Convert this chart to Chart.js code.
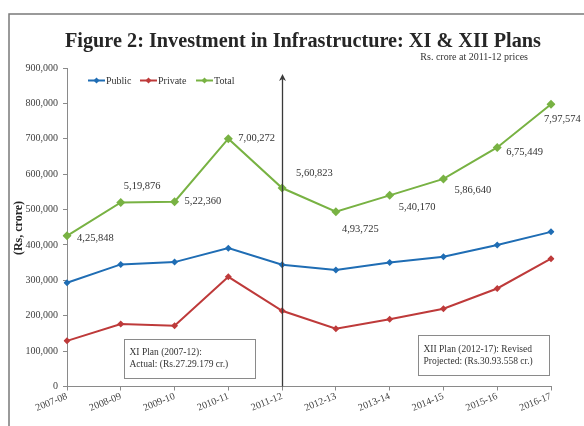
<!DOCTYPE html>
<html>
<head>
<meta charset="utf-8">
<script src="https://cdn.jsdelivr.net/npm/chart.js@4/dist/chart.umd.min.js"></script>
<style>
    html, body { margin: 0; padding: 0; background: #fff; }
    #wrap { width: 584px; height: 426px; position: relative; }
</style>
</head>
<body>
<div id="wrap"><canvas id="investmentGraph" width="584" height="426"></canvas></div>
<script>
var years = ["2007-08", "2008-09", "2009-10", "2010-11", "2011-12", "2012-13", "2013-14", "2014-15", "2015-16", "2016-17"];
var publicInvestment = [293000, 345000, 351500, 391000, 344000, 329000, 350600, 366500, 400000, 437000];
var privateInvestment = [129000, 176500, 171700, 310000, 214000, 163000, 190000, 219700, 277000, 361000];
var totalInvestment = [425848, 519876, 522360, 700272, 560823, 493725, 540170, 586640, 675449, 797574];
var totalLabels = ["4,25,848", "5,19,876", "5,22,360", "7,00,272", "5,60,823", "4,93,725", "5,40,170", "5,86,640", "6,75,449", "7,97,574"];
var yTicks = [0, 100000, 200000, 300000, 400000, 500000, 600000, 700000, 800000, 900000];

// where each total label sits relative to its point (dx to text start, dy to text middle)
var labelOffsets = [[10, 2], [3, -16], [10, 0], [10, 0], [14, -15], [6, 17], [9, 12], [11, 11], [9, 5], [-7, 15]];

var serif = "'Liberation Serif', 'Times New Roman', serif";
var blue = "#1f6db4";
var red = "#be3a3a";
var green = "#78b243";

var decorations = {
    id: "decorations",
    beforeDraw: function (chart) {
        var ctx = chart.ctx;
        ctx.save();
        ctx.fillStyle = "#fff";
        ctx.fillRect(0, 0, chart.width, chart.height);
        // outer frame
        ctx.strokeStyle = "#7a7a7a";
        ctx.lineWidth = 1.5;
        ctx.strokeRect(9, 14, 640, 500);
        ctx.restore();
    },
    afterDatasetsDraw: function (chart) {
        var ctx = chart.ctx;
        var area = chart.chartArea;
        var x = chart.scales.x;
        var y = chart.scales.y;
        ctx.save();

        // title, fitted to the reference width
        var title = "Figure 2: Investment in Infrastructure: XI & XII Plans";
        ctx.fillStyle = "#262626";
        ctx.textAlign = "center";
        ctx.textBaseline = "alphabetic";
        ctx.font = "bold 20.5px " + serif;
        var tw = ctx.measureText(title).width;
        ctx.save();
        ctx.translate(303, 47);
        ctx.scale(476 / tw, 1);
        ctx.fillText(title, 0, 0);
        ctx.restore();

        ctx.font = "10px " + serif;
        ctx.fillStyle = "#333";
        ctx.textAlign = "right";
        ctx.fillText("Rs. crore at 2011-12 prices", 528, 60);

        // y axis title
        ctx.save();
        ctx.translate(19, 228);
        ctx.rotate(-Math.PI / 2);
        ctx.textAlign = "center";
        ctx.textBaseline = "middle";
        ctx.font = "bold 12px " + serif;
        ctx.fillStyle = "#262626";
        ctx.fillText("(Rs, crore)", 0, 0);
        ctx.restore();

        // legend
        var legendItems = [["Public", blue, 88], ["Private", red, 140], ["Total", green, 196]];
        ctx.font = "10px " + serif;
        ctx.textBaseline = "middle";
        ctx.textAlign = "left";
        for (var item of legendItems) {
            ctx.strokeStyle = item[1];
            ctx.fillStyle = item[1];
            ctx.lineWidth = 2;
            ctx.beginPath();
            ctx.moveTo(item[2], 80.5);
            ctx.lineTo(item[2] + 17, 80.5);
            ctx.stroke();
            ctx.beginPath();
            var cx = item[2] + 8.5;
            ctx.moveTo(cx, 77.5);
            ctx.lineTo(cx + 3, 80.5);
            ctx.lineTo(cx, 83.5);
            ctx.lineTo(cx - 3, 80.5);
            ctx.closePath();
            ctx.fill();
            ctx.fillStyle = "#333";
            ctx.fillText(item[0], item[2] + 18, 81);
        }

        // plan divider arrow at 2011-12
        var ax = Math.round(x.getPixelForValue(4)) + 0.5;
        ctx.strokeStyle = "#3a3a3a";
        ctx.fillStyle = "#3a3a3a";
        ctx.lineWidth = 1.3;
        ctx.beginPath();
        ctx.moveTo(ax, area.bottom);
        ctx.lineTo(ax, 77);
        ctx.stroke();
        ctx.beginPath();
        ctx.moveTo(ax, 74);
        ctx.lineTo(ax + 3.5, 81);
        ctx.lineTo(ax, 79);
        ctx.lineTo(ax - 3.5, 81);
        ctx.closePath();
        ctx.fill();

        // total data labels
        ctx.font = "10.5px " + serif;
        ctx.fillStyle = "#333";
        ctx.textBaseline = "middle";
        ctx.textAlign = "left";
        var meta = chart.getDatasetMeta(2);
        meta.data.forEach(function (pt, i) {
            ctx.fillText(totalLabels[i], pt.x + labelOffsets[i][0], pt.y + labelOffsets[i][1]);
        });

        // plan boxes: [left, right] in category units, [top, bottom] in axis units
        var boxes = [
            [1.06, 3.5, 134000, 24000, 13, ["XI Plan (2007-12):", "Actual: (Rs.27.29.179 cr.)"]],
            [6.53, 8.96, 145000, 33000, 14, ["XII Plan (2012-17): Revised", "Projected: (Rs.30.93.558 cr.)"]],
        ];
        ctx.font = "9.5px " + serif;
        for (var b of boxes) {
            var bl = Math.round(x.getPixelForValue(b[0])) + 0.5;
            var br = Math.round(x.getPixelForValue(b[1])) + 0.5;
            var bt = Math.round(y.getPixelForValue(b[2])) + 0.5;
            var bb = Math.round(y.getPixelForValue(b[3])) + 0.5;
            ctx.fillStyle = "#fff";
            ctx.fillRect(bl, bt, br - bl, bb - bt);
            ctx.strokeStyle = "#8a8a8a";
            ctx.lineWidth = 1;
            ctx.strokeRect(bl, bt, br - bl, bb - bt);
            ctx.fillStyle = "#333";
            ctx.fillText(b[5][0], bl + 5, bt + b[4]);
            ctx.fillText(b[5][1], bl + 5, bt + b[4] + 11.5);
        }
        ctx.restore();
    },
};

function make_dataset(label, values, color, radius) {
    return {
        label: label,
        data: values,
        borderColor: color,
        backgroundColor: color,
        borderWidth: 2,
        pointStyle: "rectRot",
        pointRadius: radius,
        pointHoverRadius: radius,
        pointBorderWidth: 0,
        tension: 0,
    };
}

var config = {
    type: "line",
    data: {
        labels: years,
        datasets: [
            make_dataset("Public", publicInvestment, blue, 3.5),
            make_dataset("Private", privateInvestment, red, 3.5),
            make_dataset("Total", totalInvestment, green, 4.5),
        ],
    },
    options: {
        responsive: false,
        animation: false,
        layout: { padding: { top: 68, right: 33, left: 0, bottom: 0 } },
        plugins: {
            legend: { display: false },
            tooltip: { enabled: false },
            title: { display: false },
        },
        scales: {
            x: {
                offset: false,
                grid: { drawOnChartArea: false, drawTicks: true, tickLength: 4, color: "#8a8a8a" },
                border: { color: "#8a8a8a", width: 1 },
                ticks: {
                    font: { family: serif, size: 10 },
                    color: "#404040",
                    minRotation: 22,
                    maxRotation: 22,
                    autoSkip: false,
                    padding: 0,
                },
                afterFit: function (scale) {
                    scale.height = 39.5;
                },
            },
            y: {
                min: 0,
                max: 900000,
                afterBuildTicks: function (scale) {
                    scale.ticks = yTicks.map(function (v) { return { value: v }; });
                },
                grid: { drawOnChartArea: false, drawTicks: true, tickLength: 4, color: "#8a8a8a" },
                border: { color: "#8a8a8a", width: 1 },
                ticks: {
                    font: { family: serif, size: 10 },
                    color: "#404040",
                    padding: 5,
                    callback: function (value) {
                        return value.toLocaleString("en-US");
                    },
                },
                afterFit: function (scale) {
                    scale.width = 67;
                },
            },
        },
    },
    plugins: [decorations],
};

var investmentGraph = new Chart("investmentGraph", config);
</script>
</body>
</html>
